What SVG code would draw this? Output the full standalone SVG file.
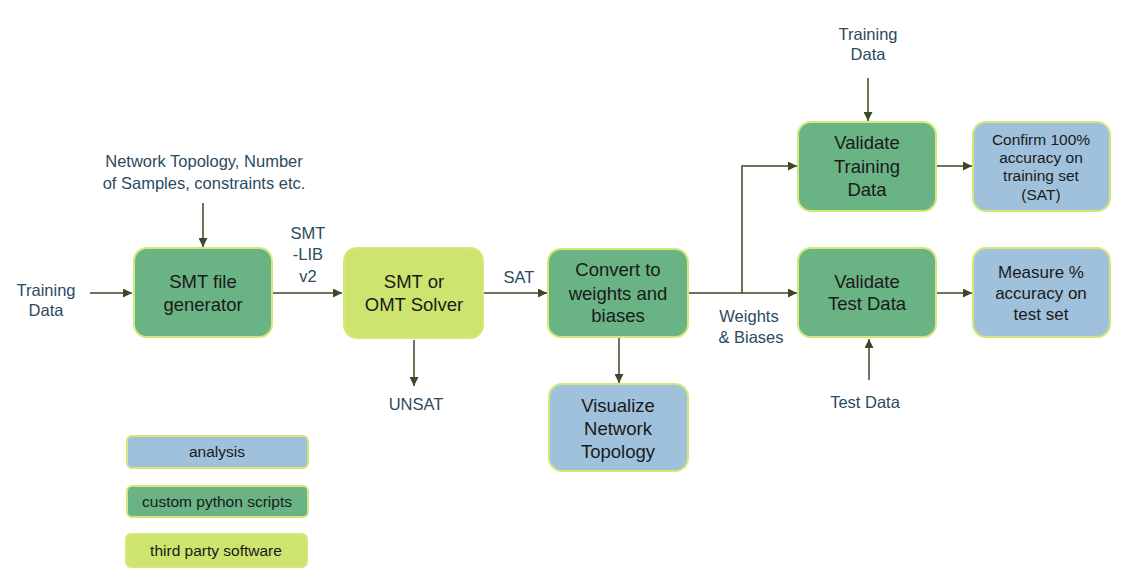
<svg xmlns="http://www.w3.org/2000/svg" width="1131" height="587" viewBox="0 0 1131 587">
<defs>
<marker id="ah" viewBox="0 0 10 10" refX="10" refY="5" markerWidth="9" markerHeight="9" markerUnits="userSpaceOnUse" orient="auto">
<path d="M0,0 L10,5 L0,10 z" fill="#3a4a26"/>
</marker>
<style>
.box{stroke:#d4e87a;stroke-width:2}
.g{fill:#69b384}
.y{fill:#cde46e}
.b{fill:#a0c1dc}
.t{font-family:"Liberation Sans",Arial,sans-serif;font-size:18.5px;fill:#1a1a1a;text-anchor:middle}
.m{font-family:"Liberation Sans",Arial,sans-serif;font-size:17px;fill:#1a1a1a;text-anchor:middle}
.s{font-family:"Liberation Sans",Arial,sans-serif;font-size:15.5px;fill:#1a1a1a;text-anchor:middle}
.l{font-family:"Liberation Sans",Arial,sans-serif;font-size:16.5px;fill:#2c4a60;text-anchor:middle}
.c{stroke:#3a4a26;stroke-width:1.5;fill:none}
</style>
</defs>
<rect width="1131" height="587" fill="#ffffff"/>
<g id="connectors">
<line class="c" x1="90" y1="293" x2="132" y2="293" marker-end="url(#ah)"/>
<line class="c" x1="203" y1="203" x2="203" y2="247" marker-end="url(#ah)"/>
<line class="c" x1="273" y1="293" x2="342" y2="293" marker-end="url(#ah)"/>
<line class="c" x1="483" y1="293" x2="547" y2="293" marker-end="url(#ah)"/>
<line class="c" x1="414" y1="340" x2="414" y2="386" marker-end="url(#ah)"/>
<line class="c" x1="619" y1="338" x2="619" y2="383" marker-end="url(#ah)"/>
<polyline class="c" points="688,293 742,293 742,166 797,166" marker-end="url(#ah)"/>
<line class="c" x1="742" y1="293" x2="797" y2="293" marker-end="url(#ah)"/>
<line class="c" x1="868" y1="78" x2="868" y2="121" marker-end="url(#ah)"/>
<line class="c" x1="936" y1="166" x2="972" y2="166" marker-end="url(#ah)"/>
<line class="c" x1="936" y1="293" x2="972" y2="293" marker-end="url(#ah)"/>
<line class="c" x1="869" y1="380" x2="869" y2="339" marker-end="url(#ah)"/>
</g>
<g id="labels">
<text class="l" x="46" y="296">Training</text>
<text class="l" x="46" y="316">Data</text>
<text class="l" x="204" y="167">Network Topology, Number</text>
<text class="l" x="204" y="189">of Samples, constraints etc.</text>
<text class="l" x="308" y="239">SMT</text>
<text class="l" x="308" y="260">-LIB</text>
<text class="l" x="308" y="282">v2</text>
<text class="l" x="519" y="283">SAT</text>
<text class="l" x="416" y="410">UNSAT</text>
<text class="l" x="749" y="322">Weights</text>
<text class="l" x="751" y="343">&amp; Biases</text>
<text class="l" x="868" y="40">Training</text>
<text class="l" x="868" y="60">Data</text>
<text class="l" x="865" y="408">Test Data</text>
</g>
<g id="smt-gen">
<rect class="box g" x="134" y="248" width="138" height="89" rx="13"/>
<text class="t" x="203" y="288">SMT file</text>
<text class="t" x="203" y="311">generator</text>
</g>
<g id="solver">
<rect class="box y" x="344" y="248" width="139" height="90" rx="13"/>
<text class="t" x="414" y="288">SMT or</text>
<text class="t" x="414" y="311">OMT Solver</text>
</g>
<g id="convert">
<rect class="box g" x="548" y="249" width="140" height="88" rx="13"/>
<text class="t" x="618" y="276">Convert to</text>
<text class="t" x="618" y="300">weights and</text>
<text class="t" x="618" y="322">biases</text>
</g>
<g id="visualize">
<rect class="box b" x="549" y="384" width="139" height="87" rx="13"/>
<text class="t" x="618" y="412">Visualize</text>
<text class="t" x="618" y="435">Network</text>
<text class="t" x="618" y="458">Topology</text>
</g>
<g id="val-train">
<rect class="box g" x="798" y="122" width="138" height="89" rx="13"/>
<text class="t" x="867" y="149">Validate</text>
<text class="t" x="867" y="173">Training</text>
<text class="t" x="867" y="196">Data</text>
</g>
<g id="confirm">
<rect class="box b" x="973" y="122" width="137" height="89" rx="13"/>
<text class="s" x="1041" y="145">Confirm 100%</text>
<text class="s" x="1041" y="163">accuracy on</text>
<text class="s" x="1041" y="181">training set</text>
<text class="s" x="1041" y="200">(SAT)</text>
</g>
<g id="val-test">
<rect class="box g" x="798" y="248" width="138" height="89" rx="13"/>
<text class="t" x="867" y="288">Validate</text>
<text class="t" x="867" y="310">Test Data</text>
</g>
<g id="measure">
<rect class="box b" x="973" y="248" width="137" height="89" rx="13"/>
<text class="m" x="1041" y="278">Measure %</text>
<text class="m" x="1041" y="299">accuracy on</text>
<text class="m" x="1041" y="320">test set</text>
</g>
<g id="legend-analysis">
<rect class="box b" x="127" y="436" width="181" height="32" rx="5"/>
<text class="s" x="217" y="457">analysis</text>
</g>
<g id="legend-custom">
<rect class="box g" x="127" y="486" width="181" height="31" rx="5"/>
<text class="s" x="217" y="507">custom python scripts</text>
</g>
<g id="legend-third">
<rect class="box y" x="126" y="534" width="181" height="33" rx="5"/>
<text class="s" x="216" y="556">third party software</text>
</g>
</svg>
